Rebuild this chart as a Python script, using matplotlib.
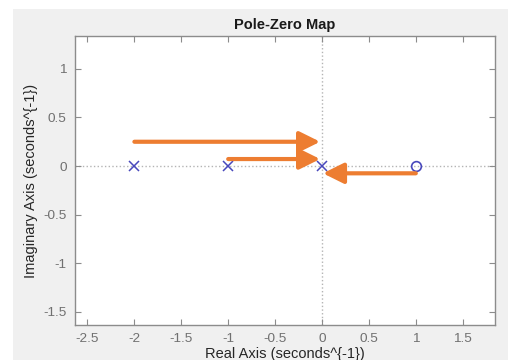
import matplotlib.pyplot as plt
from matplotlib.patches import Rectangle

plt.rcParams['font.family'] = ['Liberation Sans', 'DejaVu Sans']

# poles and zeros of the system
pole_re = [-2, -1, 0]
pole_im = [0, 0, 0]
zero_re = [1]
zero_im = [0]

# annotation arrows: (x_start, y, x_end)
arrow_start = [-2.0, -1.0, 1.0]
arrow_end = [-0.02, -0.02, 0.01]
arrow_y = [0.25, 0.072, -0.075]

x_ticks = [-2.5, -2, -1.5, -1, -0.5, 0, 0.5, 1, 1.5]
y_ticks = [-1.5, -1, -0.5, 0, 0.5, 1]

W, H = 512, 360
fig = plt.figure(figsize=(W / 100, H / 100), dpi=100, facecolor='white')
fig.patches.append(Rectangle((13 / W, 0), (508 - 13) / W, (H - 9) / H,
                             transform=fig.transFigure, facecolor='#f0f0f0',
                             edgecolor='none', zorder=-1))

ax = fig.add_axes([75 / W, 1 - 325 / H, (495 - 75) / W, (325 - 36) / H])
ax.set_xlim(-2.633, 1.844)
ax.set_ylim(-1.637, 1.339)

ax.axhline(0, color='#b4b4b4', linestyle=':', linewidth=1, zorder=1)
ax.axvline(0, color='#b4b4b4', linestyle=':', linewidth=1, zorder=1)

ax.plot(pole_re, pole_im, linestyle='none', marker='x', markersize=7,
        markeredgewidth=1.1, color='#4848bc', zorder=3)
ax.plot(zero_re, zero_im, linestyle='none', marker='o', markersize=7,
        markeredgewidth=1.2, markerfacecolor='none', color='#4848bc', zorder=3)

for xs, xe, y in zip(arrow_start, arrow_end, arrow_y):
    ax.annotate('', xy=(xe, y), xytext=(xs, y),
                arrowprops=dict(arrowstyle='-|>,head_length=1.25,head_width=0.62',
                                color='#ed7d31', lw=3.0, shrinkA=0, shrinkB=0),
                zorder=4)

ax.set_xticks(x_ticks)
ax.set_xticklabels([f'{v:g}' for v in x_ticks])
ax.set_yticks(y_ticks)
ax.set_yticklabels([f'{v:g}' for v in y_ticks])
ax.tick_params(direction='in', length=4, width=0.8, color='#8c8c8c',
               labelcolor='#707070', labelsize=9.7, top=True, right=True, pad=6)
for s in ax.spines.values():
    s.set_color('#8c8c8c')
    s.set_linewidth(1)

ax.set_title('Pole-Zero Map', fontsize=10.5, fontweight='bold', color='#1a1a1a', pad=5)
ax.set_xlabel('Real Axis (seconds^{-1})', fontsize=10.5, color='#262626', labelpad=1)
ax.set_ylabel('Imaginary Axis (seconds^{-1})', fontsize=10.5, color='#262626', labelpad=4)

fig.savefig('out.png', dpi=100, facecolor=fig.get_facecolor())
